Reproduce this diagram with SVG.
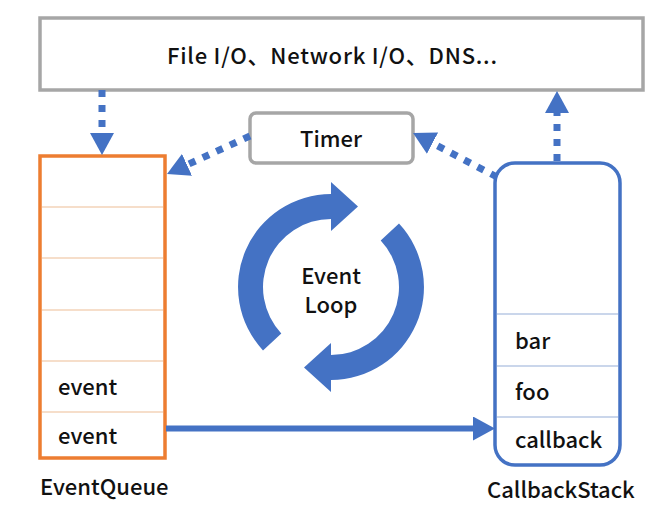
<svg xmlns="http://www.w3.org/2000/svg" width="665" height="510" viewBox="0 0 665 510">
<style>
  text { font-family: "Noto Sans CJK SC", "Noto Sans", "Liberation Sans", sans-serif; font-size: 22px; fill: #111; font-weight: 500; }
  .gray { fill: #fff; stroke: #A6A6A6; stroke-width: 3.5; }
  .dash { fill: none; stroke: #4472C4; stroke-width: 7; stroke-dasharray: 7 8; }
  .solid { fill: none; stroke: #4472C4; stroke-width: 6; }
  .sepO { stroke: #F3D3B8; stroke-width: 1.5; }
  .sepB { stroke: #B9C9E4; stroke-width: 1.5; }
  .loop { fill: #4472C4; }
</style>
<defs>
  <marker id="ah" viewBox="0 0 22 24" refX="0" refY="12" markerWidth="22" markerHeight="24" markerUnits="userSpaceOnUse" orient="auto">
    <path d="M0,0 L22,12 L0,24 Z" fill="#4472C4"/>
  </marker>
</defs>
<rect width="665" height="510" fill="#fff"/>

<g id="io">
  <rect class="gray" x="40" y="18" width="603" height="72"/>
  <text x="167" y="64" textLength="330" lengthAdjust="spacing">File I/O、Network I/O、DNS...</text>
</g>

<g id="timer">
  <rect class="gray" x="250" y="113" width="163" height="50" rx="6"/>
  <text x="331" y="147" text-anchor="middle">Timer</text>
</g>

<g id="eventqueue">
  <rect x="40" y="156" width="125" height="302" fill="#fff" stroke="#ED7D31" stroke-width="3.5"/>
  <line class="sepO" x1="42" y1="207" x2="163" y2="207"/>
  <line class="sepO" x1="42" y1="258" x2="163" y2="258"/>
  <line class="sepO" x1="42" y1="310" x2="163" y2="310"/>
  <line class="sepO" x1="42" y1="361" x2="163" y2="361"/>
  <line class="sepO" x1="42" y1="412" x2="163" y2="412"/>
  <text x="58" y="395">event</text>
  <text x="58" y="444">event</text>
  <text x="40" y="495">EventQueue</text>
</g>

<g id="callbackstack">
  <rect x="495" y="163" width="125" height="302" rx="20" fill="#fff" stroke="#4472C4" stroke-width="3.5"/>
  <line class="sepB" x1="497" y1="314" x2="618" y2="314"/>
  <line class="sepB" x1="497" y1="366" x2="618" y2="366"/>
  <line class="sepB" x1="497" y1="417" x2="618" y2="417"/>
  <text x="515" y="349">bar</text>
  <text x="515" y="400">foo</text>
  <text x="515" y="448">callback</text>
  <text x="487" y="498">CallbackStack</text>
</g>

<g id="eventloop">
  <path class="loop" d="M263.0 350.4 A93 93 0 0 1 331 194 L331 182 L358 206.5 L331 231 L331 219 A68 68 0 0 0 281.3 333.4 Z"/>
  <path class="loop" d="M399.0 223.6 A93 93 0 0 1 331 380 L331 392 L304 367.5 L331 343 L331 355 A68 68 0 0 0 380.7 240.6 Z"/>
  <text x="331" y="284" text-anchor="middle">Event</text>
  <text x="331" y="313" text-anchor="middle">Loop</text>
</g>

<g id="connectors">
  <path class="dash" d="M102 90 L102 133" marker-end="url(#ah)"/>
  <path class="dash" d="M557 161 L557 113" marker-end="url(#ah)"/>
  <path class="dash" d="M250 136 L187 164.8" marker-end="url(#ah)"/>
  <path class="dash" d="M497 177 L432.5 143.2" marker-end="url(#ah)"/>
  <path class="solid" d="M166 428.5 L473 428.5" marker-end="url(#ah)"/>
</g>
</svg>
